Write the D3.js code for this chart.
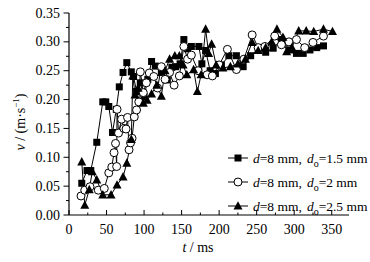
<!DOCTYPE html>
<html><head><meta charset="utf-8">
<script src="https://cdn.jsdelivr.net/npm/d3@7"></script>
<style>body{margin:0;background:#fff}svg{display:block}text{font-family:"Liberation Serif","Times New Roman",serif;fill:#000}</style>
</head><body><svg id="c" width="370" height="262"></svg>
<script>
const xTicks=[0,50,100,150,200,250,300,350];
const yTicks=[0,0.05,0.10,0.15,0.20,0.25,0.30,0.35];
const legendLabels=["1.5","2","2.5"];
const tSquare=[17,24,29,37,45,49,53,58,63,67,72,77,83,86,90,95,100,105,110,115,123,131,137,142,148,153,158,163,173,177,182,188,195,203,213,223,232,242,252,262,272,283,294,303,312,321,330,339];
const vSquare=[0.055,0.077,0.077,0.126,0.196,0.196,0.188,0.143,0.183,0.222,0.247,0.264,0.248,0.240,0.214,0.229,0.205,0.235,0.266,0.258,0.247,0.234,0.256,0.257,0.262,0.304,0.288,0.292,0.292,0.262,0.285,0.250,0.245,0.260,0.276,0.276,0.257,0.276,0.287,0.282,0.289,0.304,0.286,0.280,0.280,0.286,0.290,0.293];
const tCircle=[16,21,28,39,47,53,57,60,62,63.5,64,66,70,73,76,78,80,82,84,87,90,93,95,99,103,107,113,118,123,128,134,140,147,153,158,163,172,184,191,200,211,223,233,244,252,261,274,283,293,303,314,325,339];
const vCircle=[0.033,0.043,0.049,0.043,0.046,0.073,0.083,0.108,0.124,0.084,0.183,0.142,0.166,0.150,0.149,0.169,0.113,0.125,0.133,0.170,0.182,0.196,0.248,0.212,0.229,0.246,0.240,0.220,0.257,0.235,0.247,0.225,0.241,0.292,0.270,0.277,0.250,0.243,0.241,0.260,0.287,0.252,0.270,0.312,0.290,0.292,0.310,0.295,0.300,0.304,0.290,0.299,0.310];
const tTri=[17,21,27,31,37,45,56,64,72,77,83,85,88,92,99,104,110,117,123,128,134,141,147,152,157,166,171,176,182,186,190,196,205,215,225,235,244,252,262,270,277,285,290,297,306,316,326,339,351];
const vTri=[0.092,0.017,0.044,0.075,0.061,0.035,0.035,0.052,0.066,0.090,0.131,0.241,0.208,0.220,0.194,0.199,0.210,0.225,0.206,0.250,0.270,0.276,0.276,0.260,0.243,0.252,0.214,0.243,0.322,0.280,0.296,0.260,0.255,0.257,0.262,0.270,0.299,0.285,0.290,0.300,0.322,0.308,0.283,0.290,0.319,0.319,0.318,0.322,0.318];

const svg=d3.select("#c");
const x=d3.scaleLinear().domain([0,373]).range([69,349]);
const y=d3.scaleLinear().domain([0,0.35]).range([215,13]);

// axes
const gx=svg.append("g");
gx.append("line").attr("x1",69).attr("x2",349).attr("y1",215).attr("y2",215).attr("stroke","#000").attr("stroke-width",1.2);
d3.range(0,375,25).forEach(v=>{const major=v%50===0;gx.append("line").attr("x1",x(v)).attr("x2",x(v)).attr("y1",215).attr("y2",major?210:212.5).attr("stroke","#000").attr("stroke-width",1);});
xTicks.forEach(v=>gx.append("text").attr("x",x(v)).attr("y",234).attr("text-anchor","middle").attr("font-size",14).text(v));
const gy=svg.append("g");
gy.append("line").attr("x1",69).attr("x2",69).attr("y1",13).attr("y2",215).attr("stroke","#000").attr("stroke-width",1.2);
d3.range(0,15).forEach(i=>{const v=i*0.025;const major=i%2===0;gy.append("line").attr("x1",69).attr("x2",major?63.5:66).attr("y1",y(v)).attr("y2",y(v)).attr("stroke","#000").attr("stroke-width",1);});
yTicks.forEach(v=>gy.append("text").attr("x",60).attr("y",y(v)+4.5).attr("text-anchor","end").attr("font-size",14).text(v.toFixed(2)));

// axis titles
const yl=svg.append("text").attr("transform","translate(25,122) rotate(-90)").attr("text-anchor","middle").attr("font-size",14);
yl.append("tspan").attr("font-style","italic").text("v");
yl.append("tspan").text(" / (m·s");
yl.append("tspan").attr("font-size",9).attr("dy",-6).text("−1");
yl.append("tspan").attr("dy",6).text(")");
const xl=svg.append("text").attr("x",198).attr("y",252).attr("text-anchor","middle").attr("font-size",14);
xl.append("tspan").attr("font-style","italic").text("t");
xl.append("tspan").text(" / ms");

const series=[
 {t:tSquare,v:vSquare,m:"square"},
 {t:tCircle,v:vCircle,m:"circle"},
 {t:tTri,v:vTri,m:"triangle"}];
const line=d3.line().x(d=>x(d[0])).y(d=>y(d[1]));
function marker(g,type,cx,cy){
  if(type==="square") g.append("rect").attr("x",cx-3.5).attr("y",cy-3.5).attr("width",7).attr("height",7).attr("fill","#000");
  else if(type==="circle") g.append("circle").attr("cx",cx).attr("cy",cy).attr("r",4).attr("fill","#fff").attr("stroke","#000").attr("stroke-width",1);
  else g.append("path").attr("d",`M${cx},${cy-4.8}L${cx+4.5},${cy+3.6}L${cx-4.5},${cy+3.6}Z`).attr("fill","#000");
}
series.forEach(s=>{
  const pts=s.t.map((t,i)=>[t,s.v[i]]);
  svg.append("path").attr("d",line(pts)).attr("fill","none").attr("stroke","#000").attr("stroke-width",1);
});
series.forEach(s=>{
  const g=svg.append("g");
  s.t.forEach((t,i)=>marker(g,s.m,x(t),y(s.v[i])));
});

// legend
const ly=[158,182,206];
series.forEach((s,i)=>{
  const g=svg.append("g");
  g.append("line").attr("x1",228).attr("x2",248).attr("y1",ly[i]).attr("y2",ly[i]).attr("stroke","#000").attr("stroke-width",1);
  marker(g,s.m,238,ly[i]);
  const tx=g.append("text").attr("x",253).attr("y",ly[i]+4.5).attr("font-size",13.5);
  tx.append("tspan").attr("font-style","italic").text("d");
  tx.append("tspan").text("=8 mm,");
  tx.append("tspan").attr("dx",5).attr("font-style","italic").text("d");
  tx.append("tspan").attr("font-size",10).attr("dy",4).text("o");
  tx.append("tspan").attr("dy",-4).text("="+legendLabels[i]+" mm");
});
</script></body></html>
